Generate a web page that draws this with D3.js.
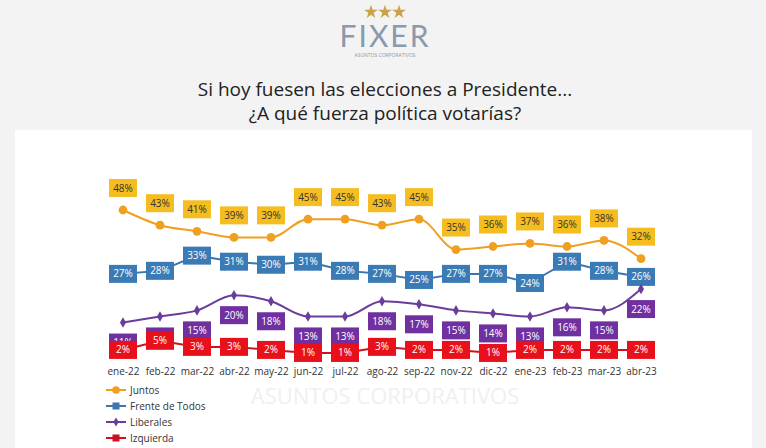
<!DOCTYPE html>
<html><head><meta charset="utf-8">
<script src="https://cdn.jsdelivr.net/npm/d3@7"></script>
<style>body{margin:0;background:#f3f3f3;font-family:"Open Sans",sans-serif}</style>
</head><body><svg id="c" width="766" height="448"></svg>
<script>
const months = ["ene-22","feb-22","mar-22","abr-22","may-22","jun-22","jul-22","ago-22","sep-22","nov-22","dic-22","ene-23","feb-23","mar-23","abr-23"];
const juntos = [48,43,41,39,39,45,45,43,45,35,36,37,36,38,32];
const frente = [27,28,33,31,30,31,28,27,25,27,27,24,31,28,26];
const liberales = [11,13,15,20,18,13,13,18,17,15,14,13,16,15,22];
const izquierda = [2,5,3,3,2,1,1,3,2,2,1,2,2,2,2];

const series = [
  {name:"Juntos", values:juntos, line:"#f0a020", box:"#f5bd1f", text:"#333", shape:"circle", dy:-22, curve:d3.curveMonotoneX},
  {name:"Frente de Todos", values:frente, line:"#3a76b0", box:"#3a7ab5", text:"#fff", shape:"square", dy:0, curve:d3.curveLinear},
  {name:"Liberales", values:liberales, line:"#6a3d9a", box:"#7030a0", text:"#fff", shape:"diamond", dy:20, curve:d3.curveMonotoneX},
  {name:"Izquierda", values:izquierda, line:"#d01020", box:"#e8101a", text:"#fff", shape:"square", dy:0, curve:d3.curveLinear}
];

const svg = d3.select("#c");
svg.append("rect").attr("x",15).attr("y",130).attr("width",737).attr("height",330).attr("fill","#fff");

// header
const stars = svg.append("g");
[-14,0,14].forEach(d=>stars.append("path").attr("d",d3.symbol(d3.symbolStar,60)()).attr("transform",`translate(${385+d},12)`).attr("fill","#c9a24a"));
svg.append("text").attr("x",385).attr("y",47).attr("text-anchor","middle").attr("font-size",30).attr("letter-spacing",2).attr("fill","#8a9aae").attr("font-family","Lato, sans-serif").text("FIXER");
svg.append("text").attr("x",385).attr("y",57).attr("text-anchor","middle").attr("font-size",5).attr("fill","#8a9aae").text("ASUNTOS CORPORATIVOS");
svg.append("text").attr("x",385).attr("y",96).attr("text-anchor","middle").attr("font-size",19).attr("fill","#222").text("Si hoy fuesen las elecciones a Presidente...");
svg.append("text").attr("x",385).attr("y",120).attr("text-anchor","middle").attr("font-size",19).attr("fill","#222").text("¿A qué fuerza política votarías?");
svg.append("text").attr("x",385).attr("y",404).attr("text-anchor","middle").attr("font-size",22).attr("fill","#eef0f3").text("ASUNTOS CORPORATIVOS");

const x = d3.scalePoint().domain(months).range([123,641]);
const y = d3.scaleLinear().domain([0,48]).range([356,210]);

svg.append("g").attr("transform","translate(0,364)")
  .call(d3.axisBottom(x).tickSize(0).tickPadding(4))
  .call(g=>g.select(".domain").remove())
  .selectAll("text").attr("font-size",10).attr("fill","#333").attr("font-family","Open Sans, sans-serif");

function marker(g, s, sz){
  if(s.shape==="circle") g.append("circle").attr("r",sz*0.55).attr("fill",s.line);
  else if(s.shape==="square") g.append("rect").attr("x",-sz/2).attr("y",-sz/2).attr("width",sz).attr("height",sz).attr("fill",s.line);
  else g.append("path").attr("d",d3.symbol(d3.symbolDiamond,sz*sz*0.5)()).attr("fill",s.line);
}

series.forEach(s=>{
  const line = d3.line().x((d,i)=>x(months[i])).y(d=>y(d)).curve(s.curve);
  svg.append("path").datum(s.values).attr("d",line).attr("fill","none").attr("stroke",s.line).attr("stroke-width",2);
  s.values.forEach((v,i)=>{
    const g = svg.append("g").attr("transform",`translate(${x(months[i])},${y(v)})`);
    marker(g,s,8);
    const lg = svg.append("g").attr("transform",`translate(${x(months[i])},${y(v)+s.dy})`);
    lg.append("rect").attr("x",-14).attr("y",-9).attr("width",28).attr("height",18).attr("fill",s.box);
    lg.append("text").attr("text-anchor","middle").attr("dy","0.35em").attr("font-size",10).attr("fill",s.text).text(v+"%");
  });
});

// legend
series.forEach((s,i)=>{
  const g = svg.append("g").attr("transform",`translate(106,${390+i*16})`);
  g.append("line").attr("x1",0).attr("x2",20).attr("stroke",s.line).attr("stroke-width",2);
  const m = g.append("g").attr("transform","translate(10,0)");
  marker(m,s,7);
  g.append("text").attr("x",24).attr("dy","0.35em").attr("font-size",10).attr("fill","#333").text(s.name);
});
</script></body></html>
